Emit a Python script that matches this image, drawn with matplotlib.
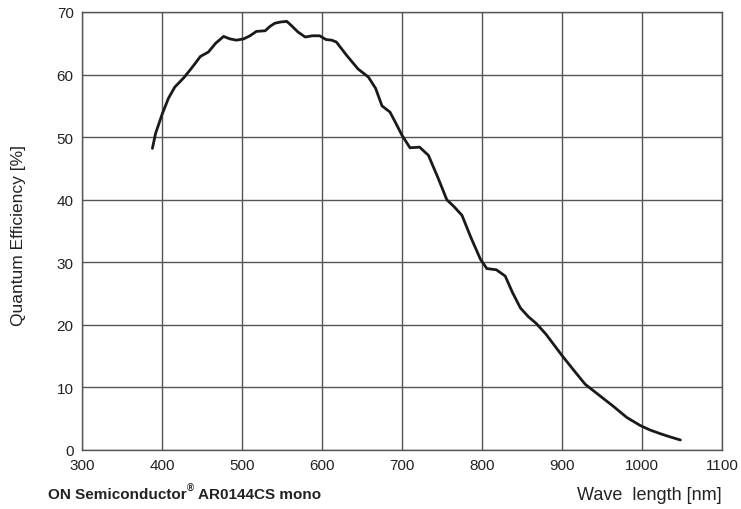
import numpy as np
import matplotlib
matplotlib.use('Agg')
import matplotlib.pyplot as plt
from matplotlib import font_manager

plt.rcParams['font.family'] = ['Liberation Sans', 'DejaVu Sans']

# Quantum efficiency curve
wavelength = [388, 392, 400, 408, 416, 428, 438, 448, 458, 467, 477, 485, 493,
              502, 510, 518, 529, 535, 541, 548, 556, 562, 570, 579, 588, 597,
              605, 612, 618, 630, 645, 658, 667, 675, 685, 692, 700, 710, 722,
              733, 745, 756, 765, 775, 786, 798, 806, 818, 829, 838, 848, 858,
              868, 880, 890, 900, 915, 929, 945, 964, 981, 998, 1010, 1023, 1035,
              1048]
qe = [48.2, 50.6, 53.6, 56.2, 58.0, 59.6, 61.2, 62.9, 63.6, 65.0, 66.1, 65.7,
      65.5, 65.7, 66.2, 66.9, 67.0, 67.7, 68.2, 68.4, 68.5, 67.8, 66.8, 66.0,
      66.2, 66.2, 65.6, 65.5, 65.2, 63.2, 60.9, 59.6, 57.8, 55.0, 54.0, 52.3,
      50.3, 48.3, 48.4, 47.1, 43.5, 40.0, 38.9, 37.5, 34.0, 30.5, 29.0, 28.8,
      27.8, 25.2, 22.7, 21.3, 20.2, 18.5, 16.8, 15.1, 12.7, 10.5, 8.9, 7.0,
      5.2, 3.9, 3.2, 2.6, 2.1, 1.6]

xticks = [300, 400, 500, 600, 700, 800, 900, 1000, 1100]
yticks = [0, 10, 20, 30, 40, 50, 60, 70]

# condensed face for the bold caption if one is installed
names = {f.name for f in font_manager.fontManager.ttflist}
if 'Liberation Sans Narrow' in names:
    cap_family, cap_size = ['Liberation Sans Narrow', 'DejaVu Sans'], 12.5
else:
    cap_family, cap_size = ['Liberation Sans', 'DejaVu Sans'], 11

fig = plt.figure(figsize=(7.41, 5.10), dpi=100)
ax = fig.add_axes([82 / 741, 59 / 510, 640 / 741, 438 / 510])

ax.plot(wavelength, qe, color='#1a1a1a', lw=2.0, solid_capstyle='round',
        solid_joinstyle='round', zorder=3)

ax.set_xlim(300, 1100)
ax.set_ylim(0, 70)
ax.set_xticks(xticks)
ax.set_yticks(yticks)
ax.tick_params(length=0, labelsize=11, colors='#222222', pad=6)
ax.grid(True, color='#555555', lw=1.0)
for s in ax.spines.values():
    s.set_color('#555555')
    s.set_linewidth(1.0)

fig.text(19 / 741, 1 - 236 / 510, 'Quantum Efficiency [%]', fontsize=12.5,
         rotation=90, va='center', ha='center', color='#222222')

t1 = fig.text(48 / 741, 1 - 495 / 510, 'ON Semiconductor', fontsize=cap_size,
              family=cap_family, fontweight='bold', va='center', ha='left',
              color='#222222')
fig.canvas.draw()
bb = t1.get_window_extent()
x_sup = bb.x1 / 741 + 0.001
t2 = fig.text(x_sup, 1 - 489 / 510, '®', fontsize=7, family=cap_family,
              fontweight='bold', va='center', ha='left', color='#222222')
fig.canvas.draw()
bb2 = t2.get_window_extent()
fig.text(bb2.x1 / 741 + 4 / 741, 1 - 495 / 510, 'AR0144CS mono', fontsize=cap_size,
         family=cap_family, fontweight='bold', va='center', ha='left',
         color='#222222')
fig.text(722 / 741, 1 - 496 / 510, 'Wave  length [nm]', fontsize=13,
         va='center', ha='right', color='#222222')

fig.savefig('out.png', dpi=100)
